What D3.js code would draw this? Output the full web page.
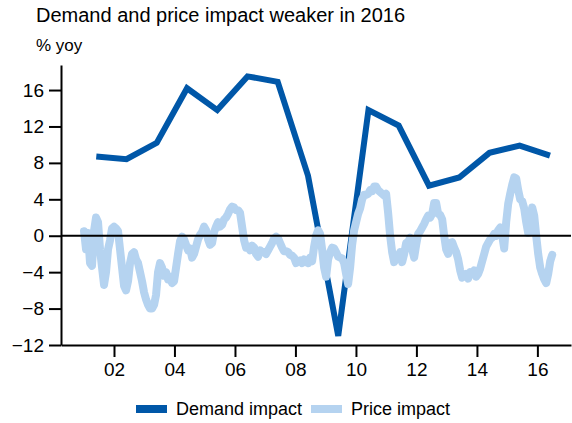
<!DOCTYPE html>
<html>
<head>
<meta charset="utf-8">
<script src="https://cdn.jsdelivr.net/npm/d3@7"></script>
<style>
  body { margin: 0; background: #fff; }
  svg text { font-family: "Liberation Sans", Arial, sans-serif; fill: #000; }
</style>
</head>
<body>
<div id="chart"></div>
<script>
// demand impact: one reading per year, mid-year
var demandYears = [2001, 2002, 2003, 2004, 2005, 2006, 2007, 2008, 2009, 2010, 2011, 2012, 2013, 2014, 2015, 2016];
var demandValues = [8.7, 8.4, 10.2, 16.2, 13.8, 17.5, 16.9, 6.6, -11.0, 13.8, 12.1, 5.5, 6.4, 9.1, 9.9, 8.8];

// price impact: regular high-frequency readings, Jan 2001 to end Jun 2016
var priceStart = "2001-01-04";
var priceEnd = "2016-06-28";
var priceValues = [
  0.5, -1.5, 0.3, -3.0, -3.3, 0.5, 2.0, 1.5, -1.5, -3.5,
  -5.4, -4.0, -1.5, -0.5, 0.8, 1.0, 0.8, 0.5, -1.5, -3.5,
  -5.5, -6.0, -5.0, -3.0, -2.0, -1.8, -2.6, -3.0, -4.0, -5.0,
  -6.2, -7.0, -7.6, -8.0, -8.0, -7.6, -6.5, -4.0, -3.0, -3.5,
  -4.4, -4.0, -4.8, -4.5, -5.2, -5.0, -3.5, -2.0, -0.6, -0.1,
  -0.4, -1.0, -1.6, -1.4, -2.4, -2.0, -1.2, -0.4, 0.1, 0.4,
  1.0, 0.6, -0.4, -1.0, -0.8, 0.4, 1.0, 1.5, 1.0, 1.2,
  1.8, 2.0, 2.4, 2.9, 3.2, 3.1, 2.8, 2.8, 2.5, 1.0,
  -0.5, -1.3, -1.2, -1.6, -1.1, -1.3, -2.0, -2.3, -1.6, -1.8,
  -1.8, -2.0, -1.6, -1.2, -0.8, -0.3, -0.1, -0.3, -0.8, -1.3,
  -1.7, -1.7, -1.8, -2.1, -2.2, -2.4, -3.0, -2.8, -2.7, -3.0,
  -2.6, -2.9, -3.0, -2.4, -2.8, -1.2, 0.0, 0.6, 0.2, -1.5,
  -3.5, -4.5, -2.6, -1.8, -1.3, -1.4, -1.8, -2.3, -2.4, -2.5,
  -3.0, -4.2, -5.3, -3.5, -1.0, 0.6, 1.5, 2.4, 3.0, 4.0,
  4.5, 4.5, 4.6, 5.0, 4.9, 5.4, 5.4, 5.0, 4.8, 4.6,
  4.4, 4.6, 2.5, 0.0, -1.8, -2.9, -2.4, -2.4, -1.8, -2.9,
  -2.0, -0.8, -0.7, -0.2, -1.5, -2.4, -1.0, 0.2, 0.5, 0.9,
  1.3, 1.8, 2.2, 2.0, 2.4, 3.6, 3.6, 2.4, 2.3, 1.8,
  0.0, -1.5, -2.0, -0.8, -0.7, -1.3, -1.8, -2.6, -3.8, -4.6,
  -4.4, -4.2, -4.7, -4.0, -4.2, -3.8, -4.5, -4.2, -3.6, -2.8,
  -2.0, -1.2, -0.8, -0.4, -0.2, 0.2, 0.0, 0.6, 0.9, 0.0,
  -1.4, 1.5, 3.5, 4.6, 5.6, 6.4, 6.3, 5.0, 4.0, 3.8,
  3.0, 1.5, 0.3, 1.5, 3.1, 2.2, 0.0, -2.0, -3.5, -4.2,
  -4.8, -5.2, -4.2, -2.8, -2.1
];

var xTickYears = [2002, 2004, 2006, 2008, 2010, 2012, 2014, 2016];
var yTickValues = [-12, -8, -4, 0, 4, 8, 12, 16];

var titleText = "Demand and price impact weaker in 2016";
var unitText = "% yoy";
var seriesNames = ["Demand impact", "Price impact"];
var seriesColors = ["#0057a8", "#b5d3f0"];

var width = 572, height = 423;
var plot = { left: 61, right: 571, top: 65, bottom: 345 };

var svg = d3.select("#chart").append("svg")
    .attr("width", width)
    .attr("height", height);

var x = d3.scaleTime()
    .domain([new Date(2000, 3, 1), new Date(2017, 1, 10)])
    .range([plot.left, plot.right]);

var y = d3.scaleLinear()
    .domain([-12, 18.75])
    .range([plot.bottom, plot.top]);

var demand = demandYears.map(function(yr, i) {
    return { date: new Date(yr, 5, 1), value: demandValues[i] };
});

var t0 = d3.isoParse(priceStart).getTime(),
    t1 = d3.isoParse(priceEnd).getTime(),
    n = priceValues.length;
var price = priceValues.map(function(v, i) {
    return { date: new Date(t0 + (t1 - t0) * i / (n - 1)), value: v };
});

var line = d3.line()
    .x(function(d) { return x(d.date); })
    .y(function(d) { return y(d.value); });

// demand line (underneath the price line)
svg.append("path")
    .datum(demand)
    .attr("d", line)
    .attr("fill", "none")
    .attr("stroke", seriesColors[0])
    .attr("stroke-width", 6)
    .attr("stroke-linejoin", "miter");

svg.append("path")
    .datum(price)
    .attr("d", line)
    .attr("fill", "none")
    .attr("stroke", seriesColors[1])
    .attr("stroke-width", 8)
    .attr("stroke-linejoin", "round")
    .attr("stroke-linecap", "round");

// zero line
svg.append("line")
    .attr("x1", plot.left)
    .attr("x2", plot.right)
    .attr("y1", y(0))
    .attr("y2", y(0))
    .attr("stroke", "#000")
    .attr("stroke-width", 2);

var xAxis = d3.axisBottom(x)
    .tickValues(xTickYears.map(function(yr) { return new Date(yr, 0, 1); }))
    .tickFormat(d3.timeFormat("%y"))
    .tickSize(12)
    .tickSizeOuter(0)
    .tickPadding(6);

var yAxis = d3.axisLeft(y)
    .tickValues(yTickValues)
    .tickSize(12)
    .tickSizeOuter(0)
    .tickPadding(5);

var gx = svg.append("g")
    .attr("transform", "translate(0," + plot.bottom + ")")
    .call(xAxis);

var gy = svg.append("g")
    .attr("transform", "translate(" + plot.left + ",0)")
    .call(yAxis);

[gx, gy].forEach(function(g) {
    g.select(".domain").attr("stroke", "#000").attr("stroke-width", 2);
    g.selectAll(".tick line").attr("stroke", "#000").attr("stroke-width", 2);
    g.selectAll(".tick text").style("font-size", "19px").attr("fill", "#000");
});

svg.append("text")
    .attr("x", 36)
    .attr("y", 22)
    .style("font-size", "20px")
    .text(titleText);

svg.append("text")
    .attr("x", 36)
    .attr("y", 51)
    .style("font-size", "17px")
    .text(unitText);

// legend
var legendX = [136, 311];
var legend = svg.selectAll(".legend")
    .data(seriesNames)
    .enter().append("g")
    .attr("class", "legend")
    .attr("transform", function(d, i) { return "translate(" + legendX[i] + ",409)"; });

legend.append("rect")
    .attr("x", 0)
    .attr("y", -4)
    .attr("width", 31)
    .attr("height", 8)
    .attr("fill", function(d, i) { return seriesColors[i]; });

legend.append("text")
    .attr("x", 40)
    .attr("dy", "0.35em")
    .style("font-size", "18px")
    .text(function(d) { return d; });
</script>
</body>
</html>
